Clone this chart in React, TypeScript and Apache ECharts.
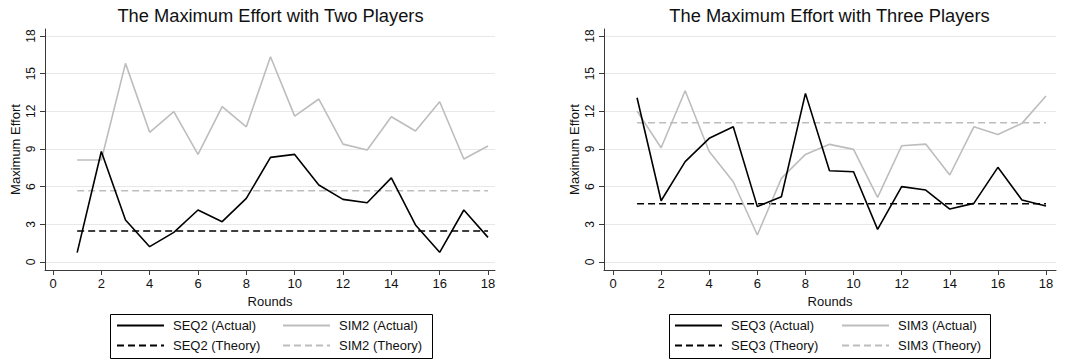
import React, { useEffect, useRef } from "react";
import * as echarts from "echarts";

const rounds = [1, 2, 3, 4, 5, 6, 7, 8, 9, 10, 11, 12, 13, 14, 15, 16, 17, 18];
const seq2Actual = [0.75, 8.8, 3.35, 1.22, 2.36, 4.14, 3.21, 5.07, 8.33, 8.57, 6.13, 4.99, 4.72, 6.7, 2.95, 0.77, 4.14, 1.96];
const sim2Actual = [8.12, 8.12, 15.82, 10.33, 11.97, 8.57, 12.37, 10.77, 16.35, 11.62, 12.98, 9.39, 8.92, 11.57, 10.43, 12.76, 8.2, 9.24];
const seq2Theory = 2.47;
const sim2Theory = 5.68;
const seq3Actual = [13.08, 4.88, 7.99, 9.85, 10.77, 4.41, 5.2, 13.43, 7.27, 7.19, 2.6, 6.0, 5.73, 4.22, 4.67, 7.54, 4.94, 4.46];
const sim3Actual = [12.02, 9.1, 13.64, 8.8, 6.39, 2.15, 6.66, 8.57, 9.37, 8.97, 5.15, 9.26, 9.39, 6.93, 10.77, 10.16, 11.04, 13.22];
const seq3Theory = 4.64;
const sim3Theory = 11.09;
const xTicks = [0, 2, 4, 6, 8, 10, 12, 14, 16, 18];
const yTicks = [0, 3, 6, 9, 12, 15, 18];
const titles = ["The Maximum Effort with Two Players", "The Maximum Effort with Three Players"];
const xName = "Rounds";
const yName = "Maximum Effort";

const FONT = "'Liberation Sans', Arial, Helvetica, sans-serif";
const BLACK = "#000000";
const GRAY = "#bdbdbd";
const AXIS = "#3a3a3a";

function pairs(vals: number[]) {
  return rounds.map((r, i) => [r, vals[i]]);
}
function flat(v: number) {
  return [[rounds[0], v], [rounds[rounds.length - 1], v]];
}

export default function App() {
  const ref = useRef<HTMLDivElement>(null);
  useEffect(() => {
    if (!ref.current) return;
    const chart = echarts.init(ref.current, undefined, { renderer: "svg" });
    const grids = [
      { left: 45, top: 29, width: 450, height: 241, xmin: -0.331, xmax: 18.29 },
      { left: 604, top: 29, width: 452, height: 241, xmin: -0.374, xmax: 18.416 },
    ];
    const xAxes = grids.map((g, i) => ({
      type: "value",
      gridIndex: i,
      min: g.xmin,
      max: g.xmax,
      name: xName,
      nameLocation: "middle",
      nameGap: 21,
      nameTextStyle: { fontFamily: FONT, fontSize: 13, color: "#111" },
      axisLine: { show: true, onZero: false, lineStyle: { color: AXIS, width: 1 } },
      axisTick: { show: true, length: 5, customValues: xTicks, lineStyle: { color: AXIS } },
      axisLabel: { customValues: xTicks, margin: 7, fontFamily: FONT, fontSize: 13, color: "#111" },
      splitLine: { show: false },
    }));
    const yAxes = grids.map((g, i) => ({
      type: "value",
      gridIndex: i,
      min: -0.637,
      max: 18.557,
      name: yName,
      nameLocation: "middle",
      nameRotate: 90,
      nameGap: 23,
      nameTextStyle: { fontFamily: FONT, fontSize: 13, color: "#111" },
      axisLine: { show: true, onZero: false, lineStyle: { color: AXIS, width: 1 } },
      axisTick: { show: true, length: 5, customValues: yTicks, lineStyle: { color: AXIS } },
      axisLabel: { customValues: yTicks, rotate: 90, margin: 8, fontFamily: FONT, fontSize: 12, color: "#111" },
      splitLine: { show: true, lineStyle: { color: "#e8e8e8", width: 1 } },
    }));
    const mk = (name: string, data: any, idx: number, color: string, dashed: boolean, width: number) => ({
      name,
      type: "line",
      xAxisIndex: idx,
      yAxisIndex: idx,
      data,
      symbol: "none",
      showSymbol: false,
      lineStyle: { color, width, type: dashed ? [7, 4] : "solid" },
      itemStyle: { color },
      z: dashed ? 2 : 3,
    });
    const series = [
      mk("SIM2 (Theory)", flat(sim2Theory), 0, GRAY, true, 1.6),
      mk("SEQ2 (Theory)", flat(seq2Theory), 0, BLACK, true, 1.6),
      mk("SIM2 (Actual)", pairs(sim2Actual), 0, GRAY, false, 1.6),
      mk("SEQ2 (Actual)", pairs(seq2Actual), 0, BLACK, false, 1.6),
      mk("SIM3 (Theory)", flat(sim3Theory), 1, GRAY, true, 1.6),
      mk("SEQ3 (Theory)", flat(seq3Theory), 1, BLACK, true, 1.6),
      mk("SIM3 (Actual)", pairs(sim3Actual), 1, GRAY, false, 1.6),
      mk("SEQ3 (Actual)", pairs(seq3Actual), 1, BLACK, false, 1.6),
    ];
    const legendCols = [
      { left: 116, names: ["SEQ2 (Actual)", "SEQ2 (Theory)"] },
      { left: 282, names: ["SIM2 (Actual)", "SIM2 (Theory)"] },
      { left: 674, names: ["SEQ3 (Actual)", "SEQ3 (Theory)"] },
      { left: 841, names: ["SIM3 (Actual)", "SIM3 (Theory)"] },
    ];
    const legends = legendCols.map((c) => ({
      left: c.left,
      top: 319,
      orient: "vertical",
      padding: 0,
      itemWidth: 47,
      itemHeight: 12,
      itemGap: 7,
      selectedMode: false,
      data: c.names,
      itemStyle: { opacity: 0, color: "transparent", borderWidth: 0 },
      textStyle: { fontFamily: FONT, fontSize: 13, color: "#111", padding: [0, 0, 0, 4] },
    }));
    const centers = [
      grids[0].left + ((0 - grids[0].xmin) / (grids[0].xmax - grids[0].xmin)) * grids[0].width,
      grids[1].left + ((0 - grids[1].xmin) / (grids[1].xmax - grids[1].xmin)) * grids[1].width,
    ];
    const ends = [
      grids[0].left + ((18 - grids[0].xmin) / (grids[0].xmax - grids[0].xmin)) * grids[0].width,
      grids[1].left + ((18 - grids[1].xmin) / (grids[1].xmax - grids[1].xmin)) * grids[1].width,
    ];
    const graphic = [
      ...titles.map((t, i) => ({
        type: "text",
        x: (centers[i] + ends[i]) / 2,
        y: 15,
        style: { text: t, font: `18.3px ${FONT}`, fill: "#111", textAlign: "center", textVerticalAlign: "middle" },
      })),
      { type: "rect", shape: { x: 110.5, y: 314.5, width: 322, height: 44 }, style: { fill: "none", stroke: "#000", lineWidth: 1 } },
      { type: "rect", shape: { x: 669.5, y: 314.5, width: 321, height: 44 }, style: { fill: "none", stroke: "#000", lineWidth: 1 } },
    ];
    chart.setOption({
      animation: false,
      backgroundColor: "#ffffff",
      grid: grids.map((g) => ({ left: g.left, top: g.top, width: g.width, height: g.height, containLabel: false })),
      xAxis: xAxes,
      yAxis: yAxes,
      legend: legends,
      series,
      graphic,
    });
    return () => chart.dispose();
  }, []);
  return <div ref={ref} style={{ position: "fixed", left: 0, top: 0, width: 1072, height: 360 }} />;
}
